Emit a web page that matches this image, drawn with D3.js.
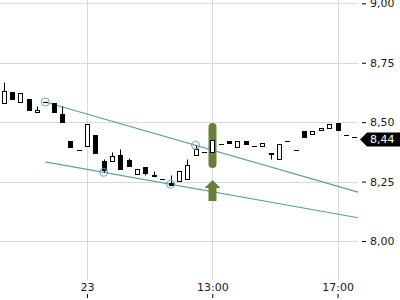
<!DOCTYPE html>
<html>
<head>
<meta charset="utf-8">
<script src="https://cdn.jsdelivr.net/npm/d3@7"></script>
<style>
  body { margin: 0; background: #fff; }
  svg { display: block; font-family: 'DejaVu Sans', sans-serif; }
</style>
</head>
<body>
<div id="chart"></div>
<script>
// candle values, one per bar
const opens = [8.580, 8.626, 8.584, 8.596, 8.542, 8.584, 8.580, 8.533, 8.421, 8.383,
  8.399, 8.445, 8.335, 8.335, 8.361, 8.340, 8.281, 8.310, 8.279, 8.260,
  8.243, 8.251, 8.260, 8.362, 8.376, 8.376, 8.408, 8.420, 8.394, 8.420,
  8.399, 8.399, 8.372, 8.344, 8.420, 8.382, 8.462, 8.449, 8.466, 8.474,
  8.495, 8.447, 8.436]
const highs = [8.669, 8.626, 8.623, 8.596, 8.567, 8.584, 8.580, 8.567, 8.421, 8.383,
  8.491, 8.445, 8.344, 8.373, 8.386, 8.348, 8.302, 8.310, 8.293, 8.260,
  8.277, 8.293, 8.344, 8.403, 8.376, 8.424, 8.408, 8.420, 8.420, 8.420,
  8.399, 8.411, 8.372, 8.407, 8.420, 8.382, 8.462, 8.464, 8.477, 8.491,
  8.495, 8.447, 8.436]
const lows = [8.580, 8.596, 8.584, 8.550, 8.542, 8.584, 8.542, 8.500, 8.397, 8.383,
  8.399, 8.369, 8.289, 8.335, 8.302, 8.314, 8.281, 8.279, 8.274, 8.260,
  8.236, 8.251, 8.260, 8.362, 8.376, 8.376, 8.408, 8.411, 8.394, 8.407,
  8.399, 8.399, 8.344, 8.344, 8.420, 8.382, 8.436, 8.449, 8.466, 8.474,
  8.466, 8.447, 8.436]
const closes = [8.630, 8.596, 8.623, 8.550, 8.550, 8.584, 8.542, 8.500, 8.397, 8.383,
  8.491, 8.369, 8.298, 8.356, 8.302, 8.314, 8.302, 8.285, 8.274, 8.260,
  8.237, 8.293, 8.319, 8.386, 8.376, 8.424, 8.408, 8.411, 8.420, 8.407,
  8.399, 8.411, 8.365, 8.407, 8.420, 8.382, 8.436, 8.464, 8.477, 8.491,
  8.466, 8.447, 8.436]

// x axis labels sit on bar indexes
const xTickIndex = [10, 25, 40]
const xTickLabels = ['23', '13:00', '17:00']
const yTicks = [8.0, 8.25, 8.5, 8.75, 9.0]

// trend channel: [bar index, price]
const upperTrend = [[5, 8.585], [42.45, 8.206]]
const lowerTrend = [[5, 8.333], [42.45, 8.098]]
const pivots = [[5, 8.585], [12, 8.289], [20, 8.239], [23, 8.403]]

// signal marker on bar 25: bar range and arrow range
const signalIndex = 25
const signalBar = [8.496, 8.307]
const signalArrow = [8.257, 8.168]

const lastPrice = 8.436

const width = 400
const height = 300
const plotW = 358
const plotH = 280

const xScale = d3.scaleLinear().domain([-0.42, 42.45]).range([0, plotW])
const yScale = d3.scaleLinear().domain([7.836, 9.014]).range([plotH, 0])

const fmt = (v) => d3.format('.2f')(v).replace('.', ',')
const px = (v) => Math.round(v) + 0.5

let svg = d3
  .select('#chart')
  .append('svg')
  .attr('width', width)
  .attr('height', height)

// grid
svg
  .append('g')
  .selectAll('line')
  .data(yTicks)
  .enter()
  .append('line')
  .attr('x1', 0)
  .attr('x2', plotW)
  .attr('y1', (d) => px(yScale(d)))
  .attr('y2', (d) => px(yScale(d)))
  .attr('stroke', '#d9d9d9')

svg
  .append('g')
  .selectAll('line')
  .data(xTickIndex)
  .enter()
  .append('line')
  .attr('x1', (d) => px(xScale(d)))
  .attr('x2', (d) => px(xScale(d)))
  .attr('y1', 0)
  .attr('y2', plotH)
  .attr('stroke', '#d9d9d9')

// axes
const yAxis = svg
  .append('g')
  .attr('transform', 'translate(362, 0)')
  .call(d3.axisRight(yScale).tickValues(yTicks).tickSize(4).tickPadding(4).tickFormat(fmt))
yAxis.select('.domain').remove()

const xAxis = svg
  .append('g')
  .attr('transform', 'translate(0, 298)')
  .call(
    d3
      .axisTop(xScale)
      .tickValues(xTickIndex)
      .tickSize(4)
      .tickPadding(3)
      .tickFormat((d, i) => xTickLabels[i])
  )
xAxis.select('.domain').remove()

svg.selectAll('.tick text').attr('font-size', 11).attr('font-family', 'DejaVu Sans').attr('fill', '#1a1a1a')
svg.selectAll('.tick line').attr('stroke', '#000')

// trend lines
const makeLine = d3
  .line()
  .x((d) => xScale(d[0]))
  .y((d) => yScale(d[1]))

svg
  .append('g')
  .selectAll('path')
  .data([upperTrend, lowerTrend])
  .enter()
  .append('path')
  .attr('d', makeLine)
  .attr('fill', 'none')
  .attr('stroke', '#5c9fa7')
  .attr('stroke-width', 1.2)

// signal marker
const sx = Math.round(xScale(signalIndex))
const olive = '#6b7e3a'
svg
  .append('rect')
  .attr('x', sx - 3.5)
  .attr('width', 8)
  .attr('y', yScale(signalBar[0]))
  .attr('height', yScale(signalBar[1]) - yScale(signalBar[0]))
  .attr('rx', 4)
  .attr('fill', olive)

const aTop = yScale(signalArrow[0])
const aBot = yScale(signalArrow[1])
svg
  .append('path')
  .attr(
    'd',
    `M${sx + 0.5},${aTop} L${sx + 8.5},${aTop + 8} L${sx + 4.5},${aTop + 8} L${sx + 4.5},${aBot}` +
      ` L${sx - 3.5},${aBot} L${sx - 3.5},${aTop + 8} L${sx - 7.5},${aTop + 8} Z`
  )
  .attr('fill', olive)

// candles
const candles = opens.map((o, i) => ({ i, o, h: highs[i], l: lows[i], c: closes[i] }))

const g = svg.append('g')
candles.forEach((d) => {
  const cx = Math.round(xScale(d.i))
  const top = px(yScale(Math.max(d.o, d.c)))
  const bot = px(yScale(Math.min(d.o, d.c)))
  const hi = px(yScale(d.h))
  const lo = px(yScale(d.l))

  if (hi < top) {
    g.append('line').attr('x1', cx + 0.5).attr('x2', cx + 0.5).attr('y1', hi).attr('y2', top).attr('stroke', '#000')
  }
  if (lo > bot) {
    g.append('line').attr('x1', cx + 0.5).attr('x2', cx + 0.5).attr('y1', bot).attr('y2', lo).attr('stroke', '#000')
  }

  if (bot - top < 1) {
    // doji
    g.append('line')
      .attr('x1', cx - 2)
      .attr('x2', cx + 3)
      .attr('y1', top)
      .attr('y2', top)
      .attr('stroke', '#000')
  } else {
    g.append('rect')
      .attr('x', cx - 1.5)
      .attr('width', 4)
      .attr('y', top)
      .attr('height', bot - top)
      .attr('fill', d.c >= d.o ? '#fff' : '#000')
      .attr('stroke', '#000')
  }
})

// pivot circles
svg
  .append('g')
  .selectAll('circle')
  .data(pivots)
  .enter()
  .append('circle')
  .attr('cx', (d) => xScale(d[0]))
  .attr('cy', (d) => yScale(d[1]))
  .attr('r', 4)
  .attr('fill', 'none')
  .attr('stroke', '#6aaab2')

// last price label
const ly = Math.round(yScale(lastPrice)) + 2.5
svg
  .append('path')
  .attr('d', `M360,${ly} L367,${ly - 7} L400,${ly - 7} L400,${ly + 7} L367,${ly + 7} Z`)
  .attr('fill', '#000')

svg
  .append('text')
  .attr('x', 370)
  .attr('y', ly)
  .attr('dy', '0.35em')
  .attr('font-size', 11)
  .attr('fill', '#fff')
  .text(fmt(lastPrice))
</script>
</body>
</html>
